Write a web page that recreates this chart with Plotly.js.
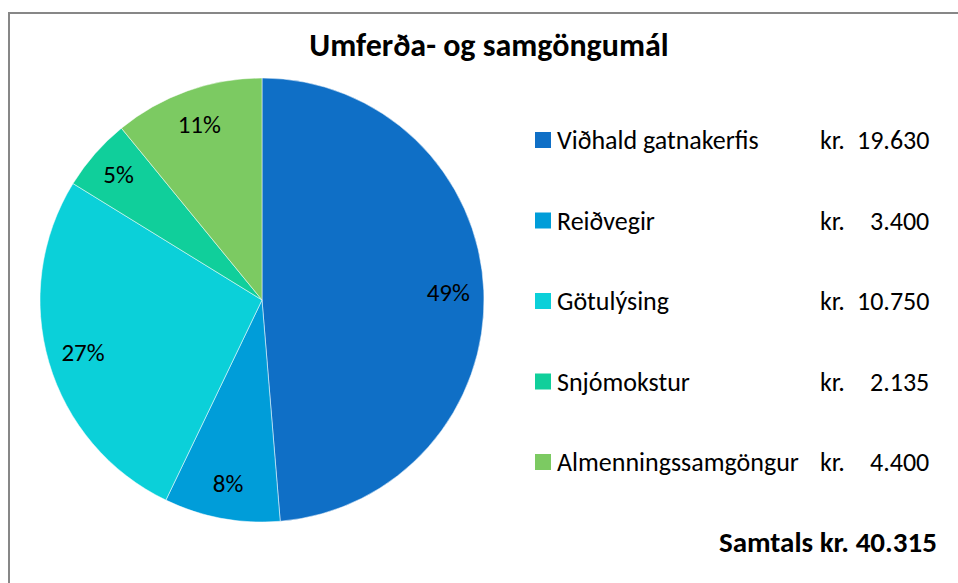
<!DOCTYPE html>
<html>
<head>
<meta charset="utf-8">
<script src="https://cdn.plot.ly/plotly-3.0.1.min.js"></script>
<style>html,body{margin:0;padding:0;background:#fff;}#chart{width:958px;height:583px;}</style>
</head>
<body>
<div id="chart"></div>
<script>
var categories = ["Viðhald gatnakerfis", "Reiðvegir", "Götulýsing", "Snjómokstur", "Almenningssamgöngur"];
var values = [19630, 3400, 10750, 2135, 4400];
var amountLabels = ["19.630", "3.400", "10.750", "2.135", "4.400"];
var totalLabel = "Samtals kr. 40.315";
var titleText = "Umferða- og samgöngumál";
var colors = ["#0F6FC6", "#009DD9", "#0BD0D9", "#10CF9B", "#7CCA62"];

var W = 958, H = 583;
var FONT = "Carlito, Calibri, 'Open Sans', sans-serif";
function px(x){ return x / W; }
function py(y){ return 1 - y / H; }

var cx = 262, cy = 300, R = 222;
var pieDomain = {x: [px(cx - R), px(cx + R)], y: [py(cy + R), py(cy - R)]};

var slices = {
  type: "pie",
  labels: categories,
  values: values,
  sort: false,
  direction: "clockwise",
  rotation: 0,
  marker: {colors: colors, line: {color: "#ffffff", width: 0.5}},
  textinfo: "none",
  hoverinfo: "label+value+percent",
  domain: pieDomain,
  showlegend: false
};

// transparent ring carrying the percentage labels near the outer edge
var labelRing = {
  type: "pie",
  labels: categories,
  values: values,
  sort: false,
  direction: "clockwise",
  rotation: 0,
  hole: 0.68,
  marker: {colors: categories.map(function(){ return "rgba(0,0,0,0)"; }), line: {width: 0}},
  textinfo: "percent",
  texttemplate: "%{percent:.0%}",
  textposition: "inside",
  insidetextorientation: "horizontal",
  textfont: {family: FONT, size: 25, color: "#000000"},
  hoverinfo: "skip",
  domain: pieDomain,
  showlegend: false
};

var shapes = [{
  type: "rect", xref: "paper", yref: "paper",
  x0: px(9), x1: px(W + 10), y0: py(13), y1: py(H + 10),
  line: {color: "#878787", width: 2}, fillcolor: "rgba(0,0,0,0)"
}];
var annotations = [];
var rowY0 = 140, rowStep = 80.5;
for (var i = 0; i < categories.length; i++) {
  var yc = rowY0 + i * rowStep;
  shapes.push({
    type: "rect", xref: "paper", yref: "paper",
    x0: px(535), x1: px(551), y0: py(yc + 8), y1: py(yc - 8),
    line: {width: 0}, fillcolor: colors[i]
  });
  annotations.push({
    xref: "paper", yref: "paper", x: px(555), y: py(yc),
    xanchor: "left", yanchor: "middle", showarrow: false,
    text: categories[i], font: {family: FONT, size: 26, color: "#000000"}
  });
  annotations.push({
    xref: "paper", yref: "paper", x: px(818), y: py(yc),
    xanchor: "left", yanchor: "middle", showarrow: false,
    text: "kr.", font: {family: FONT, size: 26, color: "#000000"}
  });
  annotations.push({
    xref: "paper", yref: "paper", x: px(931), y: py(yc),
    xanchor: "right", yanchor: "middle", showarrow: false,
    text: amountLabels[i], font: {family: FONT, size: 26, color: "#000000"}
  });
}
annotations.push({
  xref: "paper", yref: "paper", x: px(939), y: py(542),
  xanchor: "right", yanchor: "middle", showarrow: false,
  text: "<b>" + totalLabel + "</b>", font: {family: FONT, size: 29, color: "#000000"}
});

var layout = {
  width: W, height: H,
  margin: {l: 0, r: 0, t: 0, b: 0},
  paper_bgcolor: "#ffffff",
  title: {
    text: "<b>" + titleText + "</b>",
    font: {family: FONT, size: 32, color: "#000000"},
    x: px(489), xanchor: "center", y: py(45), yanchor: "middle"
  },
  shapes: shapes,
  annotations: annotations,
  showlegend: false
};

Plotly.newPlot("chart", [slices, labelRing], layout, {displayModeBar: false, staticPlot: true});
</script>
</body>
</html>
